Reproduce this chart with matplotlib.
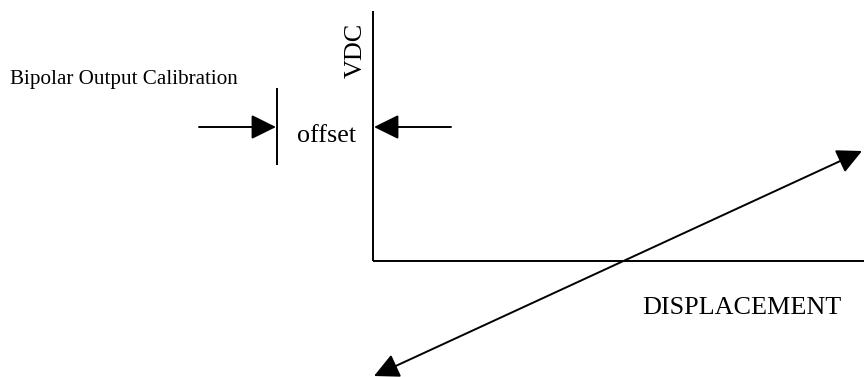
import matplotlib
matplotlib.use("Agg")
import matplotlib.pyplot as plt
from matplotlib.patches import FancyArrowPatch

# Diagram geometry in pixel space (x right, y down)
axis_origin = [373, 261]
axis_top_y = 11
axis_right_x = 864
response_line_x = [374, 862]
response_line_y = [376, 151]
offset_tick_x = 277
offset_tick_y = [88, 165]
offset_arrow_y = 127
offset_left_arrow_x = [199, 276]
offset_right_arrow_x = [451, 374]

title_text = "Bipolar Output Calibration"
y_label = "VDC"
x_label = "DISPLACEMENT"
offset_label = "offset"

W, H = 864, 377
fig = plt.figure(figsize=(W / 100, H / 100), dpi=100)
ax = fig.add_axes([0, 0, 1, 1])
ax.set_xlim(0, W)
ax.set_ylim(H, 0)
ax.axis("off")

lw = 1.4
serif = ["Liberation Serif", "DejaVu Serif"]

# axes
ax.plot([axis_origin[0], axis_origin[0]], [axis_top_y, axis_origin[1]], color="black", lw=lw, solid_capstyle="butt")
ax.plot([axis_origin[0], axis_right_x], [axis_origin[1], axis_origin[1]], color="black", lw=lw, solid_capstyle="butt")

# response line with arrowheads on both ends
ax.add_patch(FancyArrowPatch((response_line_x[0], response_line_y[0]),
                             (response_line_x[1], response_line_y[1]),
                             arrowstyle="<|-|>,head_length=0.85,head_width=0.42",
                             mutation_scale=18, color="black", lw=lw,
                             shrinkA=0, shrinkB=0))

# offset tick
ax.plot([offset_tick_x, offset_tick_x], offset_tick_y, color="black", lw=lw, solid_capstyle="butt")

# offset arrows
for xs in (offset_left_arrow_x, offset_right_arrow_x):
    ax.add_patch(FancyArrowPatch((xs[0], offset_arrow_y), (xs[1], offset_arrow_y),
                                 arrowstyle="-|>,head_length=0.85,head_width=0.42",
                                 mutation_scale=18, color="black", lw=lw,
                                 shrinkA=0, shrinkB=0))

# texts
ax.text(10, 84, title_text, fontsize=15.2, family=serif, ha="left", va="baseline")
ax.text(297, 142, offset_label, fontsize=18.8, family=serif, ha="left", va="baseline")
ax.text(742, 314, x_label, fontsize=18.8, family=serif, ha="center", va="baseline")
ax.text(362, 50, y_label, fontsize=18.8, family=serif, rotation=90,
        ha="center", va="baseline", rotation_mode="anchor")

fig.savefig("out.png", dpi=100)
